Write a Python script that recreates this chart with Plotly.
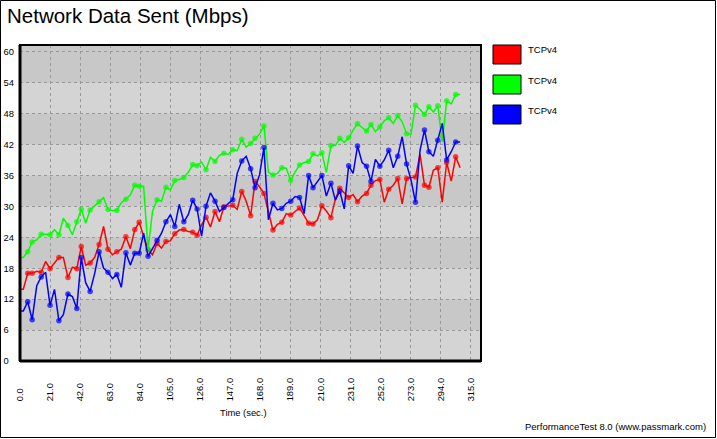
import plotly.graph_objects as go

# ---------------- data ----------------
time_s = [0.0, 2.3, 5.4, 8.5, 11.7, 14.8, 17.9, 21.0, 24.1, 27.2, 30.3,
          33.5, 36.6, 39.7, 42.8, 45.9, 49.0, 52.2, 55.3, 58.4, 61.5,
          64.6, 67.7, 70.8, 74.0, 77.1, 80.2, 83.3, 86.4, 89.5, 92.6,
          95.8, 98.9, 102.0, 105.1, 108.2, 111.3, 114.5, 117.6, 120.7, 123.8,
          126.9, 130.0, 133.1, 136.3, 139.4, 142.5, 145.6, 148.7, 151.8, 155.0,
          158.1, 161.2, 164.3, 167.4, 170.5, 173.6, 176.8, 179.9, 183.0, 186.1,
          189.2, 192.3, 195.4, 198.6, 201.7, 204.8, 207.9, 211.0, 214.1, 217.3,
          220.4, 223.5, 226.6, 229.7, 232.8, 235.9, 239.1, 242.2, 245.3, 248.4,
          251.5, 254.6, 257.7, 260.9, 264.0, 267.1, 270.2, 273.3, 276.4, 279.6,
          282.7, 285.8, 288.9, 292.0, 295.1, 298.2, 301.4, 304.5, 307.6]

tcp_red = [13.9, 13.9, 17.0, 17.0, 17.4, 17.2, 19.3, 17.9, 19.0, 20.1, 20.1,
           16.2, 18.2, 17.9, 22.2, 18.6, 19.0, 20.1, 22.6, 26.1, 21.7,
           20.6, 21.2, 21.7, 24.1, 21.8, 25.5, 26.9, 24.2, 21.6, 20.6,
           22.8, 21.9, 23.2, 23.3, 24.7, 25.4, 25.5, 25.1, 25.0, 24.4,
           26.4, 27.9, 26.0, 29.0, 27.0, 29.9, 30.0, 30.2, 29.4, 32.9,
           31.0, 28.2, 34.8, 33.8, 32.5, 29.0, 25.4, 26.5, 26.9, 28.6,
           28.3, 29.0, 29.7, 28.2, 26.7, 26.6, 27.4, 30.1, 29.1, 27.8,
           31.4, 33.5, 32.5, 31.7, 32.3, 30.9, 32.0, 32.5, 34.1, 35.0,
           35.2, 30.8, 33.3, 34.1, 35.4, 30.5, 35.4, 35.5, 35.7, 40.1,
           34.1, 33.7, 37.0, 37.5, 30.8, 38.5, 34.9, 39.6, 37.5]

tcp_green = [20.1, 20.1, 21.2, 23.1, 23.5, 24.6, 24.6, 24.5, 25.5, 24.5, 27.7,
             26.3, 24.5, 27.0, 29.5, 26.7, 29.3, 30.1, 30.9, 31.7, 29.4,
             29.2, 29.2, 30.7, 31.4, 32.2, 34.1, 33.9, 33.9, 21.6, 29.0,
             31.3, 31.0, 33.7, 33.2, 35.0, 35.2, 35.6, 36.6, 38.1, 37.9,
             38.6, 37.1, 39.5, 38.7, 39.9, 40.3, 40.1, 41.0, 40.8, 43.0,
             41.5, 42.2, 43.2, 44.0, 45.6, 36.6, 36.1, 36.4, 37.5, 37.4,
             35.0, 36.7, 38.0, 38.5, 38.7, 40.2, 39.8, 40.4, 36.6, 41.8,
             41.8, 43.2, 42.4, 43.3, 44.8, 46.0, 45.3, 44.6, 45.9, 44.5,
             45.4, 46.6, 47.2, 46.1, 47.6, 46.4, 44.1, 44.0, 49.6, 48.8,
             47.8, 49.3, 48.3, 49.5, 42.5, 50.5, 49.9, 51.7, 51.7]

tcp_blue = [9.7, 9.7, 11.5, 8.0, 14.6, 16.3, 17.2, 10.8, 13.9, 7.8, 9.0,
            13.0, 12.5, 10.2, 20.1, 15.2, 13.5, 17.0, 21.2, 18.0, 17.2,
            16.0, 16.8, 14.3, 21.0, 18.6, 20.9, 20.9, 24.8, 20.3, 21.8,
            23.4, 24.8, 27.0, 28.4, 26.1, 30.4, 27.0, 28.4, 31.2, 29.5,
            24.2, 30.0, 32.6, 31.0, 29.0, 29.8, 30.6, 31.3, 36.4, 38.8,
            39.7, 37.3, 33.6, 36.1, 41.4, 27.4, 30.6, 29.3, 29.6, 30.6,
            31.0, 31.9, 31.7, 28.6, 36.0, 33.6, 34.8, 36.0, 32.0, 34.5,
            31.2, 33.0, 29.5, 37.9, 36.4, 41.7, 38.5, 37.8, 34.8, 39.1,
            37.8, 39.0, 40.9, 37.5, 39.7, 43.5, 38.2, 35.1, 30.8, 40.9,
            44.8, 40.6, 39.7, 42.8, 46.1, 39.0, 40.6, 42.5, 42.5]

# sample positions (index into the arrays above) that carry a dot marker
marker_idx = [2, 3, 5, 7, 9, 11, 13, 14, 16, 18, 20, 22, 24, 26, 27, 29, 31, 33,
              35, 37, 39, 40, 42, 44, 46, 48, 50, 52, 53, 55, 57, 59, 61, 63, 65,
              66, 68, 70, 72, 74, 76, 78, 79, 81, 83, 85, 87, 89, 91, 92, 94, 96, 98]

series_names = ["TCPv4", "TCPv4", "TCPv4"]
series_colors = ["#FF0000", "#00FF00", "#0000FF"]
y_ticks = [0, 6, 12, 18, 24, 30, 36, 42, 48, 54, 60]
x_ticks = [0, 21, 42, 63, 84, 105, 126, 147, 168, 189, 210, 231, 252, 273, 294, 315]

# ---------------- layout helpers ----------------
W, H = 717, 439
PL, PR, PT, PB = 20, 481, 45, 361
NB = "\u00a0"
FONT = "Liberation Sans, Arial, sans-serif"


def px(x):
    return (x - PL) / (PR - PL)


def py(y):
    return (PB - y) / (PB - PT)


fig = go.Figure()
for vals, name, col in zip([tcp_red, tcp_green, tcp_blue], series_names, series_colors):
    sizes = [5.5 if i in marker_idx else 0 for i in range(len(vals))]
    fig.add_trace(go.Scatter(
        x=time_s, y=vals, name=name, mode="lines+markers",
        line=dict(color=col, width=1.5),
        marker=dict(color=col, size=sizes, line=dict(width=0)),
        showlegend=False, hoverinfo="x+y"))

x_text = []
for v in x_ticks:
    s = f"{v:.1f}"
    pad = (5 - len(s)) * 2
    x_text.append(s + NB * pad)
y_text = [str(v) + NB * (2 * (2 - len(str(v)))) for v in y_ticks]

shapes = []
# alternating bands
for lo in [6, 18, 30, 42, 54]:
    hi = lo + 6 if lo < 54 else 61.3
    shapes.append(dict(type="rect", xref="paper", yref="y", x0=0, x1=1, y0=lo, y1=hi,
                       fillcolor="#c8c8c8", line=dict(width=0), layer="below"))
# plot frame
shapes.append(dict(type="rect", xref="paper", yref="paper", x0=0, x1=1, y0=0, y1=1,
                   line=dict(color="black", width=2), fillcolor="rgba(0,0,0,0)", layer="above"))
shapes.append(dict(type="line", xref="paper", yref="paper", x0=0, x1=1, y0=0, y1=0,
                   line=dict(color="black", width=3), layer="above"))
shapes.append(dict(type="line", xref="paper", yref="paper", x0=0, x1=0, y0=0, y1=1,
                   line=dict(color="black", width=3), layer="above"))
# outer image frame
shapes.append(dict(type="rect", xref="paper", yref="paper",
                   x0=px(0.5), x1=px(715.5), y0=py(437.5), y1=py(0.5),
                   line=dict(color="black", width=1), fillcolor="rgba(0,0,0,0)", layer="above"))

annotations = []
# legend
for i, (name, col) in enumerate(zip(series_names, series_colors)):
    top = 45 + 30 * i
    shapes.append(dict(type="rect", xref="paper", yref="paper",
                       x0=px(493), x1=px(521), y0=py(top + 19), y1=py(top),
                       fillcolor=col, line=dict(color="black", width=1), layer="above"))
    annotations.append(dict(text=name, xref="paper", yref="paper", x=px(526), y=py(top + 5),
                            xanchor="left", yanchor="middle", showarrow=False,
                            font=dict(family=FONT, size=9.5, color="black")))

annotations.append(dict(text="Network Data Sent (Mbps)", xref="paper", yref="paper",
                        x=px(5), y=py(16), xanchor="left", yanchor="middle", showarrow=False,
                        font=dict(family=FONT, size=20.5, color="black")))
annotations.append(dict(text="Time (sec.)", xref="x", yref="paper", x=156, y=py(412),
                        xanchor="center", yanchor="middle", showarrow=False,
                        font=dict(family=FONT, size=9.4, color="black")))
annotations.append(dict(text="PerformanceTest 8.0 (www.passmark.com)", xref="paper", yref="paper",
                        x=px(708), y=py(426), xanchor="right", yanchor="middle", showarrow=False,
                        font=dict(family=FONT, size=9.5, color="black")))

fig.update_layout(
    width=W, height=H,
    margin=dict(l=PL, r=W - PR, t=PT, b=H - PB, pad=0, autoexpand=False),
    paper_bgcolor="white", plot_bgcolor="#d4d4d4",
    font=dict(family=FONT, size=9.4, color="black"),
    shapes=shapes, annotations=annotations,
    xaxis=dict(range=[0, 322.2], tickmode="array", tickvals=x_ticks, ticktext=x_text,
               tickangle=-90, ticks="", showgrid=True, gridcolor="#999999", griddash="dot",
               gridwidth=1, zeroline=False, showline=False, ticklabelstandoff=14,
               automargin=False,
               tickfont=dict(family=FONT, size=9.4, color="black"), fixedrange=True),
    yaxis=dict(range=[0, 61.3], tickmode="array", tickvals=y_ticks, ticktext=y_text,
               ticks="", showgrid=True, gridcolor="#999999", griddash="dot", gridwidth=1,
               zeroline=False, showline=False, ticklabelstandoff=5, automargin=False,
               tickfont=dict(family=FONT, size=9.4, color="black"), fixedrange=True),
)

fig.write_html("out.html")
